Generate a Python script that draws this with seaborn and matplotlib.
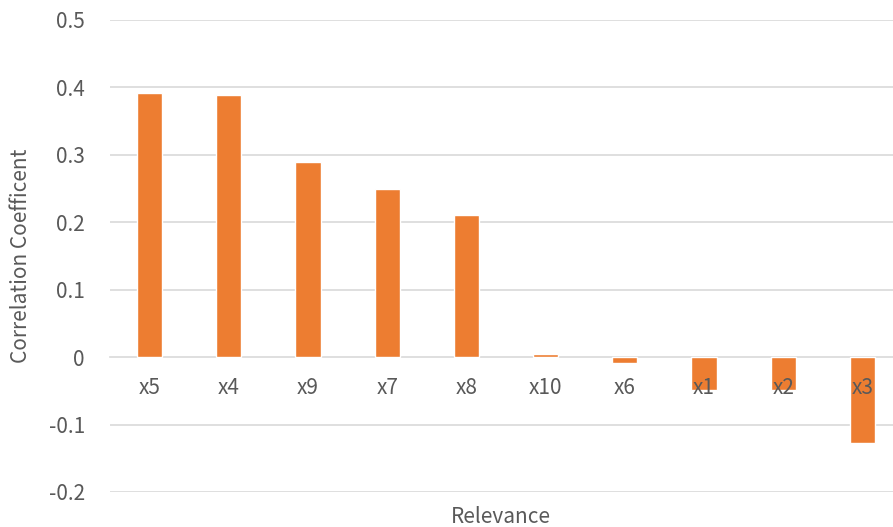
import matplotlib
matplotlib.use("Agg")
import matplotlib.pyplot as plt
import seaborn as sns
import pandas as pd
import numpy as np

categories = ["x5", "x4", "x9", "x7", "x8", "x10", "x6", "x1", "x2", "x3"]
values = [0.392, 0.389, 0.289, 0.249, 0.211, 0.004, -0.008, -0.048, -0.048, -0.128]
yticks = [-0.2, -0.1, 0, 0.1, 0.2, 0.3, 0.4, 0.5]
ytick_labels = ["-0.2", "-0.1", "0", "0.1", "0.2", "0.3", "0.4", "0.5"]

sns.set_style("white")
plt.rcParams['font.family'] = ['Noto Sans CJK SC', 'DejaVu Sans']

df = pd.DataFrame({"cat": categories, "val": values})
fig = plt.figure(figsize=(8.93, 5.27), dpi=100)
ax = fig.add_axes([110/893, 35/527, 792/893, 472/527])

sns.barplot(data=df, x="cat", y="val", color="#ED7D31", width=0.32, ax=ax,
            saturation=1, order=categories, zorder=2)

ax.set_ylim(-0.2, 0.5)
ax.set_xlim(-0.5, len(categories) - 0.5)
ax.set_yticks(yticks)
ax.set_yticklabels(ytick_labels)
for yv in yticks:
    if yv != 0:
        ax.axhline(yv, color="#D9D9D9", linewidth=1.2, zorder=0)
ax.set_axisbelow(False)
for s in ["left", "right", "top"]:
    ax.spines[s].set_visible(False)
ax.spines["bottom"].set_position(("data", 0))
ax.spines["bottom"].set_color("#D9D9D9")
ax.spines["bottom"].set_linewidth(1.2)
ax.spines["bottom"].set_zorder(1)

ax.tick_params(axis="y", length=0, pad=18, labelsize=15, labelcolor="#595959")
ax.tick_params(axis="x", which="major", length=0, pad=14, labelsize=15, labelcolor="#595959")
ax.set_xticks(np.arange(0.5, len(categories) - 0.5, 1.0), minor=True)
ax.tick_params(axis="x", which="minor", length=5, color="#D9D9D9", width=1.2, direction="out")

ax.set_xlabel("Relevance", fontsize=15, color="#595959")
ax.xaxis.set_label_coords(391/792, -0.03)
ax.set_ylabel("Correlation Coefficent", fontsize=15, color="#595959")
ax.yaxis.set_label_coords(-78/792, 0.5)

fig.savefig("out.png", dpi=100)
